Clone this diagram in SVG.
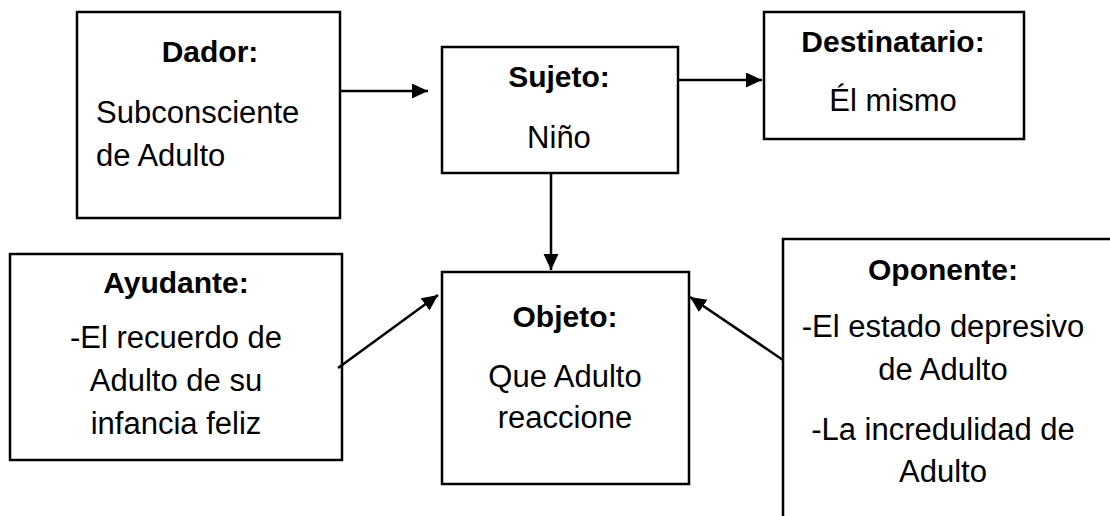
<svg xmlns="http://www.w3.org/2000/svg" width="1110" height="516" viewBox="0 0 1110 516">
<defs>
<style>
.box{fill:#fff;stroke:#000;stroke-width:2.5}
.t{font-family:"Liberation Sans",Arial,sans-serif;font-size:31px;fill:#000}
.b{font-weight:bold;font-size:30px}
.c{text-anchor:middle}
.ln{stroke:#000;stroke-width:2.5;fill:none}
</style>
<marker id="ah" markerUnits="userSpaceOnUse" markerWidth="18" markerHeight="16" refX="16" refY="7.5" orient="auto">
<path d="M0,0 L16,7.5 L0,15 Z" fill="#000"/>
</marker>
</defs>
<rect width="1110" height="516" fill="#fff"/>
<g id="dador">
<rect class="box" x="77" y="12" width="263" height="206"/>
<text class="t b c" x="210" y="62">Dador:</text>
<text class="t" x="96" y="123">Subconsciente</text>
<text class="t" x="96" y="166">de Adulto</text>
</g>
<g id="sujeto">
<rect class="box" x="442" y="47" width="236" height="126"/>
<text class="t b c" x="559" y="87">Sujeto:</text>
<text class="t c" x="559" y="148">Niño</text>
</g>
<g id="destinatario">
<rect class="box" x="764" y="12" width="260" height="127"/>
<text class="t b c" x="893" y="52">Destinatario:</text>
<text class="t c" x="893" y="111">Él mismo</text>
</g>
<g id="ayudante">
<rect class="box" x="10" y="254" width="332" height="206"/>
<text class="t b c" x="176" y="293">Ayudante:</text>
<text class="t c" x="176" y="348">-El recuerdo de</text>
<text class="t c" x="176" y="391">Adulto de su</text>
<text class="t c" x="176" y="434">infancia feliz</text>
</g>
<g id="objeto">
<rect class="box" x="442" y="272" width="247" height="212"/>
<text class="t b c" x="565" y="327">Objeto:</text>
<text class="t c" x="565" y="387">Que Adulto</text>
<text class="t c" x="565" y="428">reaccione</text>
</g>
<g id="oponente">
<rect class="box" x="783" y="239" width="340" height="300"/>
<text class="t b c" x="943" y="280">Oponente:</text>
<text class="t c" x="943" y="337">-El estado depresivo</text>
<text class="t c" x="943" y="380">de Adulto</text>
<text class="t c" x="943" y="440">-La incredulidad de</text>
<text class="t c" x="943" y="482">Adulto</text>
</g>
<g id="connectors">
<line class="ln" x1="341" y1="91" x2="428" y2="91" marker-end="url(#ah)"/>
<line class="ln" x1="679" y1="80" x2="762" y2="80" marker-end="url(#ah)"/>
<line class="ln" x1="551" y1="174" x2="551" y2="270" marker-end="url(#ah)"/>
<line class="ln" x1="338" y1="368" x2="438" y2="295" marker-end="url(#ah)"/>
<line class="ln" x1="783" y1="360" x2="690" y2="297" marker-end="url(#ah)"/>
</g>
</svg>
